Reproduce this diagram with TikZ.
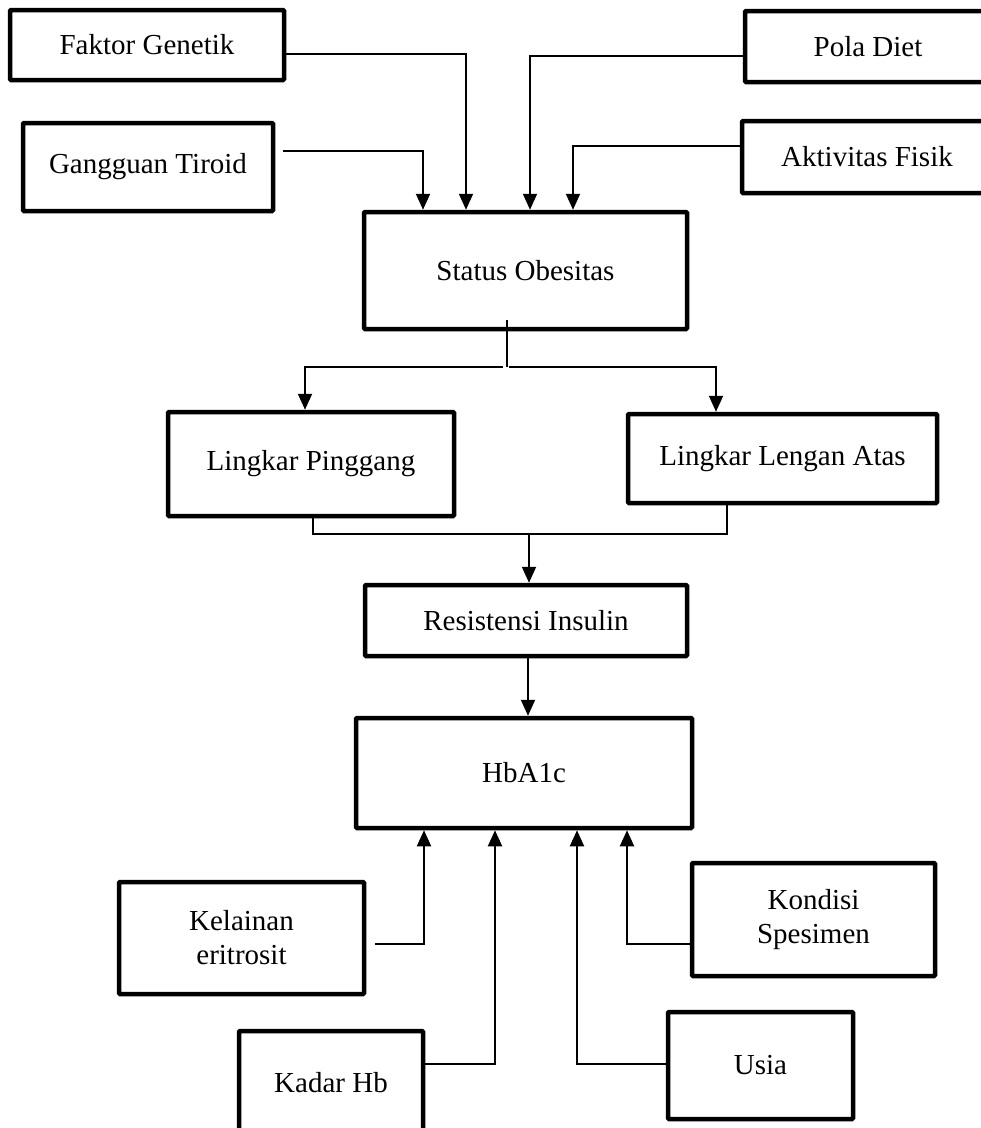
\documentclass[tikz,border=0pt]{standalone}
\usepackage{fontspec}
\setmainfont{Liberation Serif}
\usetikzlibrary{arrows.meta}
\begin{document}
\begin{tikzpicture}[x=1pt,y=-1pt,
  box/.style={draw,line width=4.5pt,rounded corners=1pt,rectangle,inner sep=0pt,
    align=center,font=\fontsize{29}{34}\selectfont},
  conn/.style={line width=2pt},
  arr/.style={line width=2pt,-{Triangle[length=16pt,width=14pt]}}]
\useasboundingbox (0,0) rectangle (981,1128);
\clip (0,0) rectangle (981,1128);
\fill[white] (0,0) rectangle (981,1128);
% nodes
\node[box,minimum width=274pt,minimum height=70pt] (fg) at (147,45) {Faktor Genetik};
\node[box,minimum width=250pt,minimum height=88pt] (gt) at (148,167) {Gangguan Tiroid};
\node[box,minimum width=246pt,minimum height=71pt] (pd) at (868,46.5) {Pola Diet};
\node[box,minimum width=250pt,minimum height=72pt] (af) at (867,157) {Aktivitas Fisik};
\node[box,minimum width=323pt,minimum height=117pt] (so) at (525.5,270.5) {Status Obesitas};
\node[box,minimum width=286pt,minimum height=104pt] (lp) at (311,464) {Lingkar Pinggang};
\node[box,minimum width=309pt,minimum height=89pt] (ll) at (782.5,458.5) {Lingkar Lengan Atas};
\node[box,minimum width=322pt,minimum height=71pt] (ri) at (526,620.5) {Resistensi Insulin};
\node[box,minimum width=336pt,minimum height=110pt] (hb) at (524,773) {HbA1c};
\node[box,minimum width=245pt,minimum height=112pt] (ke) at (241.5,938) {Kelainan\\eritrosit};
\node[box,minimum width=243pt,minimum height=113pt] (ks) at (813.5,919.5) {Kondisi\\Spesimen};
\node[box,minimum width=184pt,minimum height=104pt] (kh) at (331,1083) {Kadar Hb};
\node[box,minimum width=185pt,minimum height=107pt] (us) at (760.5,1065.5) {Usia};
% top inputs
\draw[arr] ([yshift=-9pt]fg.east) -| ([xshift=-59.5pt]so.north);
\draw[arr] ([xshift=8pt,yshift=16pt]gt.east) -| ([xshift=-102.5pt]so.north);
\draw[arr] ([yshift=-9.5pt]pd.west) -| ([xshift=4.5pt]so.north);
\draw[arr] ([yshift=11pt]af.west) -| ([xshift=47.5pt]so.north);
% split from Status Obesitas
\coordinate (sjtop) at (507,320);
\coordinate (sj) at (507,367);
\draw[conn] (sjtop) -- (sj);
\draw[arr] ([xshift=-4pt]sj) -| ([xshift=-6pt]lp.north);
\draw[arr] ([xshift=2pt]sj) -| ([xshift=-66.5pt]ll.north);
% merge into Resistensi Insulin
\coordinate (lj) at (529,534);
\draw[conn] ([xshift=2pt]lp.south) |- (lj);
\draw[conn] ([xshift=-55.5pt]ll.south) |- (lj);
\draw[arr] (lj) -- (lj |- ri.north);
\draw[arr] ([xshift=2pt]ri.south) -- ([xshift=2pt]ri.south |- hb.north);
% bottom inputs
\draw[arr] ([xshift=9pt,yshift=-6pt]ke.east) -| ([xshift=-100pt]hb.south);
\draw[arr] ([yshift=19pt]kh.east) -| ([xshift=-29pt]hb.south);
\draw[arr] ([yshift=1.5pt]us.west) -| ([xshift=53pt]hb.south);
\draw[arr] ([yshift=-24.5pt]ks.west) -| ([xshift=103pt]hb.south);
\end{tikzpicture}
\end{document}
